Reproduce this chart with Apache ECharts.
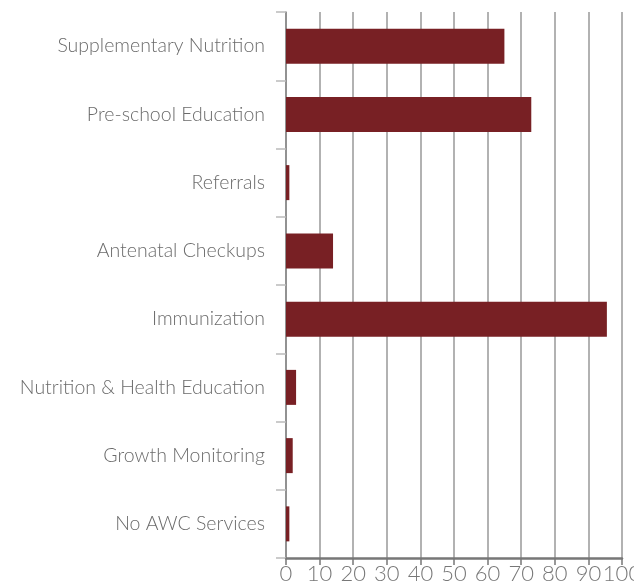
<!DOCTYPE html>
<html><head><meta charset="utf-8">
<script src="https://cdn.jsdelivr.net/npm/echarts@6/dist/echarts.min.js"></script>
<style>html,body{margin:0;padding:0;background:#fff}#c{width:634px;height:585px}</style>
</head><body><div id="c"></div>
<script>
var categories = ["Supplementary Nutrition","Pre-school Education","Referrals","Antenatal Checkups","Immunization","Nutrition & Health Education","Growth Monitoring","No AWC Services"];
var values = [65, 73, 1, 14, 95.5, 3, 2, 1];
var xTicks = {min: 0, max: 100, interval: 10};

var chart = echarts.init(document.getElementById('c'));
chart.setOption({
  animation: false,
  grid: {left: 286, right: 12, top: 12, bottom: 27, containLabel: false, outerBoundsMode: 'none'},
  xAxis: {
    type: 'value', min: xTicks.min, max: xTicks.max, interval: xTicks.interval,
    axisLine: {show: true, lineStyle: {color: '#777', width: 2.5}},
    axisTick: {show: true, length: 7, lineStyle: {color: '#777', width: 1.5}},
    splitLine: {show: true, lineStyle: {color: '#999', width: 1.5}},
    axisLabel: {color: '#777', fontFamily: 'Lato', fontWeight: 300, fontSize: 22, margin: 5}
  },
  yAxis: {
    type: 'category', data: categories, inverse: true,
    axisLine: {show: true, lineStyle: {color: '#888', width: 1.5}},
    axisTick: {show: true, length: 10, lineStyle: {color: '#bbb', width: 1.5}},
    axisLabel: {color: '#6b6b6b', fontFamily: 'Lato', fontWeight: 300, fontSize: 19.5, margin: 21}
  },
  series: [{
    type: 'bar', data: values, barWidth: 35,
    itemStyle: {color: '#782024'}
  }]
});
</script></body></html>
